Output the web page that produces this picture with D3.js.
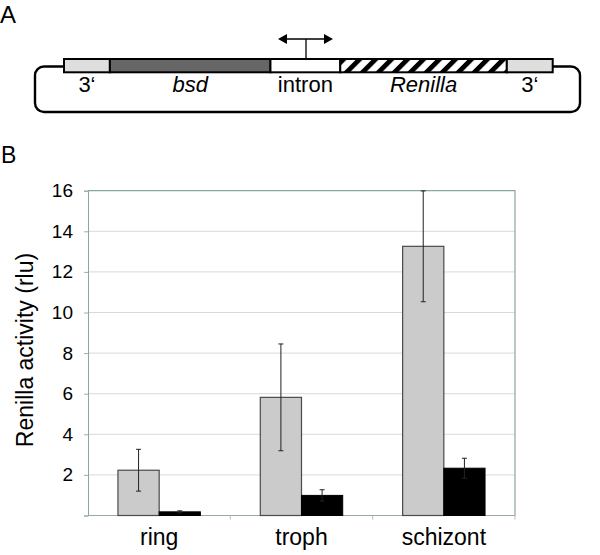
<!DOCTYPE html>
<html>
<head>
<meta charset="utf-8">
<script src="https://cdn.jsdelivr.net/npm/d3@7"></script>
<style>
  html, body { margin: 0; padding: 0; background: #fff; }
  svg { display: block; font-family: "Liberation Sans", Arial, sans-serif; }
</style>
</head>
<body>
<svg id="chart" width="600" height="555"></svg>
<script>
// ---- Data ----
const categories = ["ring", "troph", "schizont"];
const series = ["construct", "control"];
const grayValues = [2.23, 5.82, 13.26];
const grayErrors = [1.03, 2.63, 2.73];
const blackValues = [0.18, 0.99, 2.33];
const blackErrors = [0.05, 0.28, 0.49];
const yTicks = [2, 4, 6, 8, 10, 12, 14, 16];
const yLabel = "Renilla activity (rlu)";

// plasmid diagram segments (relative lengths)
const segLabels = ["3\u2018", "bsd", "intron", "Renilla", "3\u2018"];
const segLengths = [46, 161, 70, 167, 46];
const segItalic = [false, true, false, true, false];

(function () {
const svg = d3.select("#chart");

// ---- Panel labels ----
svg.append("text").attr("x", 0).attr("y", 23).attr("font-size", 24).text("A");
svg.append("text").attr("x", 1).attr("y", 163).attr("font-size", 23).text("B");

// ---- Panel A: construct diagram ----
const defs = svg.append("defs");
const pat = defs.append("pattern")
  .attr("id", "hatch").attr("patternUnits", "userSpaceOnUse")
  .attr("width", 11.3).attr("height", 11.3)
  .attr("patternTransform", "rotate(45)");
pat.append("rect").attr("width", 11.3).attr("height", 11.3).attr("fill", "#fff");
pat.append("rect").attr("width", 4.8).attr("height", 11.3).attr("fill", "#000");

// outer rounded plasmid box
svg.append("rect")
  .attr("x", 35).attr("y", 66.5).attr("width", 545).attr("height", 45.5)
  .attr("rx", 9).attr("fill", "#fff").attr("stroke", "#000").attr("stroke-width", 2.4);

const cum = [0];
segLengths.forEach((l, i) => cum.push(cum[i] + l));
const xs = d3.scaleLinear().domain([0, cum[cum.length - 1]]).range([64, 552.7]);
const segFills = ["#dedede", "#666666", "#ffffff", "url(#hatch)", "#dedede"];
const stripTop = 59, stripH = 13.3;

svg.append("g").selectAll("rect").data(segLengths).join("rect")
  .attr("x", (d, i) => xs(cum[i]))
  .attr("y", stripTop)
  .attr("width", (d, i) => xs(cum[i + 1]) - xs(cum[i]))
  .attr("height", stripH)
  .attr("fill", (d, i) => segFills[i])
  .attr("stroke", "#000").attr("stroke-width", 2);

svg.append("g").selectAll("text").data(segLabels).join("text")
  .attr("x", (d, i) => (xs(cum[i]) + xs(cum[i + 1])) / 2)
  .attr("y", 92)
  .attr("text-anchor", "middle")
  .attr("font-size", 22)
  .attr("font-style", (d, i) => segItalic[i] ? "italic" : "normal")
  .text(d => d);

// promoter double arrow above intron
const ax = 306, ay = 39;
svg.append("line").attr("x1", ax).attr("x2", ax).attr("y1", ay).attr("y2", stripTop)
  .attr("stroke", "#000").attr("stroke-width", 1.3);
svg.append("line").attr("x1", 284).attr("x2", 327).attr("y1", ay).attr("y2", ay)
  .attr("stroke", "#000").attr("stroke-width", 1.6);
svg.append("path").attr("d", `M278,${ay} L287,${ay - 5} L287,${ay + 5} Z`).attr("fill", "#000");
svg.append("path").attr("d", `M333,${ay} L324,${ay - 5} L324,${ay + 5} Z`).attr("fill", "#000");

// ---- Panel B: bar chart ----
const pLeft = 88, pRight = 515, pTop = 190.7, pBottom = 515.5;
const y = d3.scaleLinear().domain([0, 16]).range([pBottom, pTop]);
const x0 = d3.scaleBand().domain(categories).range([pLeft, pRight]).padding(0);
const x1 = d3.scaleBand().domain(series).range([0, x0.bandwidth()])
  .paddingInner(0).paddingOuter(0.727);

const borderColor = "#86a7a4";

// gridlines
svg.append("g").selectAll("line").data(yTicks.filter(t => t < 16)).join("line")
  .attr("x1", pLeft).attr("x2", pRight)
  .attr("y1", d => y(d)).attr("y2", d => y(d))
  .attr("stroke", "#d9d9d9").attr("stroke-width", 1);

// y axis
const yAxis = svg.append("g").attr("transform", `translate(${pLeft},0)`)
  .call(d3.axisLeft(y).tickValues([0].concat(yTicks)).tickSize(4).tickPadding(11)
    .tickFormat(d => d === 0 ? "" : d));
yAxis.select(".domain").attr("stroke", borderColor);
yAxis.selectAll(".tick line").attr("stroke", "#aaa");
yAxis.selectAll(".tick text").attr("font-size", 19).attr("fill", "#000")
  .attr("font-family", "Liberation Sans, Arial, sans-serif");

// x axis
const xAxis = svg.append("g").attr("transform", `translate(0,${pBottom})`)
  .call(d3.axisBottom(x0).tickSize(0).tickPadding(13));
xAxis.select(".domain").remove();
xAxis.selectAll(".tick text").attr("font-size", 23).attr("fill", "#000")
  .attr("font-family", "Liberation Sans, Arial, sans-serif");
svg.append("line").attr("x1", pLeft).attr("x2", pRight).attr("y1", pBottom).attr("y2", pBottom)
  .attr("stroke", "#9aa8a8").attr("stroke-width", 1);
// category boundary ticks
svg.append("g").selectAll("line").data(categories).join("line")
  .attr("x1", d => x0(d) + x0.bandwidth()).attr("x2", d => x0(d) + x0.bandwidth())
  .attr("y1", pBottom).attr("y2", pBottom + 4)
  .attr("stroke", "#bbb");

// top & right border
svg.append("path")
  .attr("d", `M${pLeft},${pTop} H${pRight} V${pBottom}`)
  .attr("fill", "none").attr("stroke", borderColor).attr("stroke-width", 1.2);

// bars
const groups = svg.append("g").selectAll("g").data(categories).join("g")
  .attr("transform", d => `translate(${x0(d)},0)`);

groups.append("rect")
  .attr("x", x1("construct")).attr("width", x1.bandwidth())
  .attr("y", (d, i) => y(grayValues[i]))
  .attr("height", (d, i) => y(0) - y(grayValues[i]))
  .attr("fill", "#cbcbcb").attr("stroke", "#4a4a4a").attr("stroke-width", 1.2);

groups.append("rect")
  .attr("x", x1("control")).attr("width", x1.bandwidth())
  .attr("y", (d, i) => y(blackValues[i]))
  .attr("height", (d, i) => y(0) - y(blackValues[i]))
  .attr("fill", "#000").attr("stroke", "#000").attr("stroke-width", 1);

// error bars
function errBars(vals, errs, s) {
  const cx = x1(s) + x1.bandwidth() / 2;
  const g = groups.append("g");
  g.append("line")
    .attr("x1", cx).attr("x2", cx)
    .attr("y1", (d, i) => y(vals[i] + errs[i]))
    .attr("y2", (d, i) => y(vals[i] - errs[i]))
    .attr("stroke", "#222").attr("stroke-width", 1);
  [1, -1].forEach(sign => {
    g.append("line")
      .attr("x1", cx - 2.5).attr("x2", cx + 2.5)
      .attr("y1", (d, i) => y(vals[i] + sign * errs[i]))
      .attr("y2", (d, i) => y(vals[i] + sign * errs[i]))
      .attr("stroke", "#222").attr("stroke-width", 1);
  });
}
errBars(grayValues, grayErrors, "construct");
errBars(blackValues, blackErrors, "control");

// y label
svg.append("text")
  .attr("transform", "translate(25,350) rotate(-90)")
  .attr("text-anchor", "middle").attr("dominant-baseline", "central")
  .attr("font-size", 23)
  .text(yLabel);
})();
</script>
</body>
</html>
